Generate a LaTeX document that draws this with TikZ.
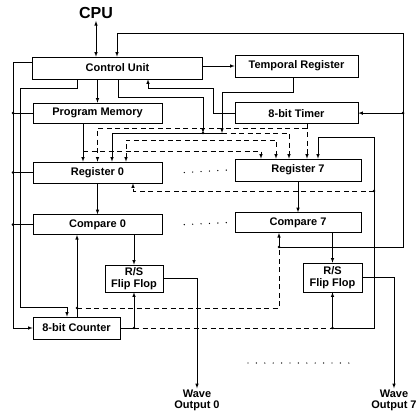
\documentclass[tikz,border=0pt]{standalone}
\usepackage{fontspec}
\setmainfont{Liberation Sans}
\usetikzlibrary{positioning}

\begin{document}
\begin{tikzpicture}[x=1pt,y=-1pt,>=latex,line width=0.6pt,
		blk/.style={draw=black,
				rectangle,
				inner sep=0pt,
				font=\fontsize{11}{12}\selectfont\bfseries,
				align=center},
		jn/.style={circle, fill=black, inner sep=0pt, minimum size=2.8pt},
		dsh/.style={dash pattern=on 5pt off 3.5pt},
		dotrow/.style={line width=1.4pt, line cap=round, dash pattern=on 0pt off 8.4pt}]
			\useasboundingbox (0,0) rectangle (418,410);
			\node[font=\fontsize{16}{18}\selectfont\bfseries, inner sep=2pt] (cpu) at (96,13) {CPU};
			\node[blk, minimum width=170pt, minimum height=22pt] (cu) at (117.5,68) {Control Unit};
			\node[blk, minimum width=123pt, minimum height=22pt] (tr) at (296.5,66) {Temporal Register};
			\node[blk, minimum width=123pt, minimum height=21pt, below=25pt of tr] (tim) {8-bit Timer};
			\node[blk, minimum width=129pt, minimum height=20pt] (pm) at (97.5,113) {Program Memory};
			\node[blk, minimum width=129pt, minimum height=21pt] (r0) at (97.5,172.5) {Register 0};
			\node[blk, minimum width=126pt, minimum height=22pt] (r7) at (298,170) {Register 7};
			\node[blk, minimum width=129pt, minimum height=20pt, below=31pt of r0] (c0) {Compare 0};
			\node[blk, minimum width=126pt, minimum height=20pt, below=31pt of r7] (c7) {Compare 7};
			\node[blk, minimum width=58pt, minimum height=27pt] (ff0) at (134,278.5) {R/S\\Flip Flop};
			\node[blk, minimum width=59pt, minimum height=29pt] (ff7) at (332.5,277.5) {R/S\\Flip Flop};
			\node[blk, minimum width=87pt, minimum height=22pt] (cnt) at (76.5,328) {8-bit Counter};
			\node[font=\fontsize{11}{11}\selectfont\bfseries, align=center, inner sep=1pt] (w0) at (197,400) {Wave\\Output 0};
			\node[font=\fontsize{11}{11}\selectfont\bfseries, align=center, inner sep=1pt] (w7) at (394,400) {Wave\\Output 7};
			% bends and junctions
			\coordinate (tmcu) at (213,88);
			\coordinate (cubus) at (203,97);
			\coordinate (busl) at (112,133);
			\coordinate (busr) at (222,133);
			\coordinate (pmj) at (83,151);
			\coordinate (tmj) at (307,128);
			\coordinate (cr) at (374,137);
			\coordinate (cdj) at (374,191);
			\coordinate (cup) at (77,308);
			\coordinate (c7j) at (279,247);
			\coordinate (rtop) at (403,33);
			\coordinate (lb) at (13,328);
			\coordinate (lib) at (20,88);
			% control unit
			\draw[<->] (cpu.south) -- (cpu.south |- cu.north);
			\draw[->] (cu.east |- tr.west) -- (tr.west);
			\draw[->] (pm.north |- cu.south) -- (pm.north);
			\draw[->] (tim.west) -| (tmcu) -| ([xshift=30.5pt]cu.south);
			\draw[->] ([xshift=0.5pt]cu.south) |- (cubus) -- (cubus |- busl);
			\draw[->] ([xshift=-3.5pt]tr.south) |- (busr |- 0,92) -- (busr);
			% register inputs
			\draw[->] (busr) -- (busl) -- (r0.north -| busl);
			\draw[dsh,->] (busr) -| (r7.north -| 289,0);
			\draw[->] (pm.south -| pmj) -- (r0.north -| pmj);
			\draw[dsh,->] (pmj) -| (r7.north -| 261,0);
			\draw[dsh,->] (tim.south -| tmj) -- (r7.north -| tmj);
			\draw[dsh,->] (tmj) -| (r0.north);
			\draw[dsh,<->] ([xshift=28.5pt]r0.north) |- (276,140) -- (r7.north -| 276,0);
			% compare and flip flops
			\draw[->] (r0) -- (c0);
			\draw[->] (r7) -- (c7);
			\draw[->] (c0.south -| ff0) -- (ff0.north);
			\draw[->] (c7.south -| ff7) -- (ff7.north);
			\draw[->] (ff0.east) -| (w0.north);
			\draw[->] (ff7.east) -| (w7.north);
			% counter
			\draw[->] (cnt.east) -- (cnt.east -| ff0) -- (ff0.south);
			\draw[dsh] (cnt.east -| ff0) -- (cnt.east -| ff7);
			\draw[->] (cnt.east -| ff7) -- (ff7.south);
			\draw[->] (cnt.east -| ff7) -| (cr) -| (r7.north -| 318,0);
			\draw[dsh,->] (cdj) -| (r0.south -| 133,0);
			\draw[->] (cnt.north -| cup) -- (c0.south -| cup);
			\draw[dsh] (cup) -| (c7j);
			\draw[->] (c7j) -- (c7.south -| c7j);
			\draw[->] (c7j) -| (rtop) -| ([xshift=-0.5pt]cu.north);
			\draw[->] (rtop |- tim.east) -- (tim.east);
			% left side
			\draw[->] ([yshift=6pt]cu.west) -| (lb) -- (cnt.west);
			\draw (pm.west) -- (pm.west -| lb);
			\draw (r0.west) -- (r0.west -| lb);
			\draw (c0.west) -- (c0.west -| lb);
			\draw[->] ([xshift=-40.5pt]cu.south) |- (lib) |- (67,307) -- (cnt.north -| 67,0);
			% junction dots
			\node[jn] (d1) at (pm.west -| lb) {};
			\node[jn] (d2) at (r0.west -| lb) {};
			\node[jn] (d3) at (c0.west -| lb) {};
			\node[jn] (d4) at (cnt.east -| ff0) {};
			\node[jn] (d5) at (cnt.east -| ff7) {};
			\node[jn] (d6) at (cup) {};
			\node[jn] (d7) at (c7j) {};
			\node[jn] (d8) at (rtop |- tim.east) {};
			\node[jn] (d9) at (cdj) {};
			\node[jn] (d10) at (cubus |- busl) {};
			% more of the same
			\draw[dotrow] ([xshift=22pt]r0.east) -- ([xshift=-7pt]r7.west);
			\draw[dotrow] ([xshift=22pt]c0.east) -- ([xshift=-7pt]c7.west);
			\draw[dotrow] (248,363) -- (350,363);
		\end{tikzpicture}
\end{document}
